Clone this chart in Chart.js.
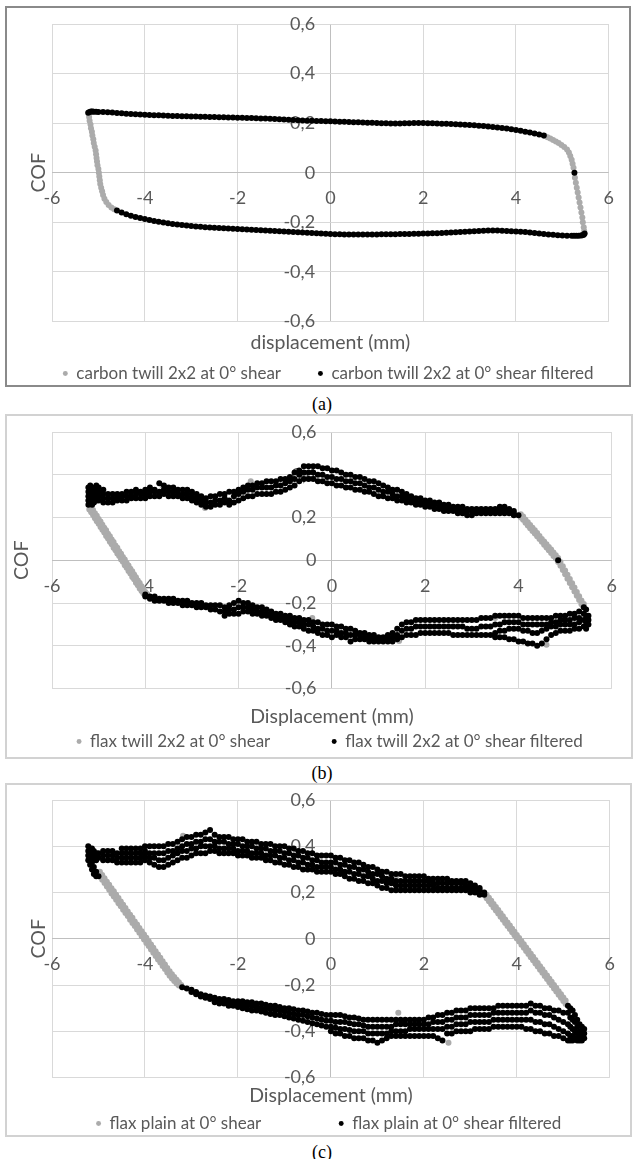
<!DOCTYPE html>
<html>
<head>
<meta charset="utf-8">
<script src="https://cdn.jsdelivr.net/npm/chart.js@4.4.1/dist/chart.umd.min.js"></script>
<style>
  html, body { margin: 0; padding: 0; background: #ffffff; }
  body { width: 636px; height: 1159px; position: relative; overflow: hidden; }
  .box { position: absolute; box-sizing: border-box; }
  canvas { position: absolute; }
  .cap { position: absolute; width: 636px; left: 0; text-align: center; font-family: "Liberation Serif", "DejaVu Serif", serif; font-size: 18px; line-height: 20px; color: #000; }
</style>
</head>
<body>
<div class="box" style="left:5px;top:6px;width:626px;height:381px;border:2px solid #8a8a8a;"></div>
<canvas id="cA" width="622" height="384" style="left:7px;top:8px;"></canvas>
<div class="cap" style="top:394px;left:4px;">(a)</div>

<div class="box" style="left:5px;top:414px;width:628px;height:345px;border:2px solid #d2d2d2;"></div>
<canvas id="cB" width="625" height="344" style="left:7px;top:416px;"></canvas>
<div class="cap" style="top:763px;left:4px;">(b)</div>

<div class="box" style="left:5px;top:783px;width:627px;height:354px;border:2px solid #d2d2d2;"></div>
<canvas id="cC" width="623" height="357" style="left:7px;top:785px;"></canvas>
<div class="cap" style="top:1142px;left:4px;">(c)</div>

<script>
// ---------------- axis ticks ----------------
const xMin = -6, xMax = 6, xStep = 2;
const yMin = -0.6, yMax = 0.6, yStep = 0.2;

// ---------------- legend labels / titles ----------------
const labelsA = ["carbon twill 2x2 at 0° shear", "carbon twill 2x2 at 0° shear filtered"];
const labelsB = ["flax twill 2x2 at 0° shear", "flax twill 2x2 at 0° shear filtered"];
const labelsC = ["flax plain at 0° shear", "flax plain at 0° shear filtered"];
const xTitleA = "displacement (mm)";
const xTitleB = "Displacement (mm)";
const xTitleC = "Displacement (mm)";
const yTitle = "COF";

// ---------------- data: rows are [x, y1, y2, ...] ----------------
// (a) carbon twill 2x2 - raw (grey)
const carbonRaw = [
[-5.21,.24],[-5.2,.225],[-5.19,.21],[-5.17,.195],[-5.16,.18],[-5.14,.165],[-5.13,.15],[-5.11,.135],[-5.1,.12],[-5.08,.105],
[-5.06,.09],[-5.05,.075],[-5.04,.06],[-5.03,.045],[-5.02,.03],[-5.0,.015],[-4.99,0],[-4.98,-.015],[-4.97,-.03],[-4.96,-.045],
[-4.94,-.06],[-4.92,-.075],[-4.9,-.09],[-4.87,-.105],[-4.83,-.118],[-4.78,-.13],[-4.72,-.14],[-4.66,-.147],
[4.62,.148],[4.68,.143],[4.74,.138],[4.8,.132],[4.86,.126],[4.92,.12],[4.98,.112],[5.04,.104],[5.1,.094],[5.14,.082],
[5.17,.068],[5.2,.052],[5.22,.036],[5.24,.02],[5.27,-.02],[5.29,-.04],[5.31,-.06],[5.33,-.08],[5.35,-.1],[5.37,-.12],
[5.39,-.14],[5.41,-.16],[5.43,-.18],[5.44,-.2],[5.46,-.22],[5.47,-.235]
];
// (a) carbon twill 2x2 - filtered (black)
const carbonFiltered = [
[-5.22,.242],[-5.19,.245],[-5.16,.247],[-5.13,.247],[-5.1,.246],[-5.05,.246],[-5,.245],[-4.9,.245],[-4.8,.244],[-4.7,.243],
[-4.6,.241],[-4.5,.24],[-4.4,.238],[-4.3,.237],[-4.2,.236],[-4.1,.235],[-4,.234],[-3.9,.233],[-3.8,.232],[-3.7,.232],
[-3.6,.231],[-3.5,.23],[-3.4,.229],[-3.3,.229],[-3.2,.228],[-3.1,.228],[-3,.227],[-2.9,.227],[-2.8,.226],[-2.7,.226],
[-2.6,.225],[-2.5,.225],[-2.4,.224],[-2.3,.224],[-2.2,.223],[-2.1,.223],[-2,.222],[-1.9,.222],[-1.8,.221],[-1.7,.221],
[-1.6,.22],[-1.5,.219],[-1.4,.219],[-1.3,.218],[-1.2,.217],[-1.1,.216],[-1,.215],[-.9,.214],[-.8,.213],[-.7,.212],
[-.6,.211],[-.5,.21],[-.4,.21],[-.3,.209],[-.2,.209],[-.1,.208],[0,.208],[.1,.207],[.2,.206],[.3,.206],
[.4,.205],[.5,.204],[.6,.204],[.7,.203],[.8,.202],[.9,.202],[1,.201],[1.1,.2],[1.2,.2],[1.3,.199],
[1.4,.199],[1.5,.199],[1.6,.2],[1.7,.2],[1.8,.201],[1.9,.201],[2,.201],[2.1,.2],[2.2,.2],[2.3,.199],
[2.4,.198],[2.5,.198],[2.6,.197],[2.7,.196],[2.8,.195],[2.9,.194],[3,.193],[3.1,.192],[3.2,.19],[3.3,.189],
[3.4,.187],[3.5,.185],[3.6,.183],[3.7,.181],[3.8,.178],[3.9,.175],[4,.172],[4.1,.169],[4.2,.165],[4.3,.162],
[4.4,.158],[4.5,.154],[4.6,.15],
[5.26,0],
[5.48,-.245],[5.46,-.25],[5.43,-.252],[5.4,-.253],[5.35,-.254],[5.3,-.254],[5.25,-.254],[5.2,-.254],[5.1,-.254],[5,-.253],
[4.9,-.252],[4.8,-.25],[4.7,-.249],[4.6,-.247],[4.5,-.245],[4.4,-.243],[4.3,-.241],[4.2,-.239],[4.1,-.238],[4,-.237],
[3.9,-.236],[3.8,-.235],[3.7,-.234],[3.6,-.233],[3.5,-.233],[3.4,-.233],[3.3,-.234],[3.2,-.235],[3.1,-.236],[3,-.237],
[2.9,-.238],[2.8,-.239],[2.7,-.24],[2.6,-.241],[2.5,-.242],[2.4,-.243],[2.3,-.244],[2.2,-.244],[2.1,-.245],[2,-.245],
[1.9,-.246],[1.8,-.246],[1.7,-.247],[1.6,-.247],[1.5,-.247],[1.4,-.248],[1.3,-.248],[1.2,-.248],[1.1,-.248],[1,-.249],
[.9,-.249],[.8,-.249],[.7,-.249],[.6,-.249],[.5,-.249],[.4,-.249],[.3,-.249],[.2,-.248],[.1,-.248],[0,-.247],
[-.1,-.246],[-.2,-.245],[-.3,-.244],[-.4,-.243],[-.5,-.242],[-.6,-.241],[-.7,-.24],[-.8,-.239],[-.9,-.238],[-1,-.237],
[-1.1,-.236],[-1.2,-.235],[-1.3,-.234],[-1.4,-.233],[-1.5,-.232],[-1.6,-.231],[-1.7,-.23],[-1.8,-.229],[-1.9,-.228],[-2,-.227],
[-2.1,-.226],[-2.2,-.225],[-2.3,-.224],[-2.4,-.223],[-2.5,-.222],[-2.6,-.221],[-2.7,-.22],[-2.8,-.218],[-2.9,-.217],[-3,-.215],
[-3.1,-.213],[-3.2,-.211],[-3.3,-.209],[-3.4,-.207],[-3.5,-.204],[-3.6,-.201],[-3.7,-.198],[-3.8,-.195],[-3.9,-.191],[-4,-.187],
[-4.1,-.183],[-4.2,-.178],[-4.3,-.173],[-4.4,-.167],[-4.5,-.16],[-4.6,-.152]
];

// (b) flax twill 2x2 - raw (grey)
const flaxTwillRaw = [
[-5.2,.262,.238],[-5.16,.249,.224],[-5.12,.235,.212],[-5.08,.22,.197],[-5.04,.208,.182],[-5,.193,.171],[-4.96,.181,.155],[-4.92,.166,.143],
[-4.88,.152,.13],[-4.84,.14,.114],[-4.8,.124,.102],[-4.76,.112,.086],[-4.72,.097,.075],[-4.68,.085,.059],[-4.64,.069,.047],[-4.6,.058,.032],
[-4.56,.042,.02],[-4.52,.03,.004],[-4.48,.015,-.007],[-4.44,.003,-.023],[-4.4,-.013,-.035],[-4.36,-.024,-.05],[-4.32,-.04,-.062],[-4.28,-.052,-.078],
[-4.24,-.067,-.089],[-4.2,-.079,-.105],[-4.16,-.095,-.117],[-4.12,-.106,-.132],[-4.08,-.122,-.144],[-4.04,-.134,-.156],[-4,-.149,-.165],[-3.96,-.158],
[4.05,.215,.2],[4.1,.205,.19],[4.15,.19,.175],[4.2,.178,.162],[4.25,.165,.15],[4.3,.152,.137],[4.35,.14,.125],[4.4,.127,.112],
[4.45,.114,.099],[4.5,.1,.086],[4.55,.088,.073],[4.6,.075,.06],[4.65,.062,.047],[4.7,.05,.034],[4.75,.036,.02],[4.8,.023,.008],
[4.85,.01,-.008],[4.9,-.008,-.026],[4.95,-.028,-.046],[5,-.048,-.066],[5.05,-.068,-.086],[5.1,-.088,-.106],[5.15,-.108,-.126],[5.2,-.128,-.146],
[5.25,-.148,-.166],[5.3,-.168,-.186],[5.35,-.188,-.206],[5.4,-.205,-.222],
[-3.62,.345],[-2.72,.245],[-1.74,.37],[-0.62,.39],[1.38,.29],[-0.42,-.27],[1.44,-.378],[4.6,-.395],[3.5,-.27]
];
// (b) flax twill 2x2 - filtered (black)
const flaxTwillFiltered = [
[-5.22,.26,.28,.30,.32,.34],[-5.18,.27,.29,.31,.33,.35],[-5.14,.26,.28,.30,.32,.34],[-5.1,.27,.29,.31,.33],[-5.05,.28,.30,.32,.35],
[-5.0,.28,.30,.32,.34],[-4.9,.27,.29,.31,.33],[-4.8,.27,.29,.31],[-4.7,.27,.29,.31],[-4.6,.28,.29,.31],
[-4.5,.28,.30,.31],[-4.4,.28,.30,.32],[-4.3,.29,.30,.32],[-4.2,.29,.31,.33],[-4.1,.29,.31,.32],
[-4.0,.29,.31,.33],[-3.9,.30,.32,.34],[-3.8,.30,.32,.33],[-3.7,.30,.32,.36],[-3.6,.31,.33,.35],
[-3.5,.30,.32,.34],[-3.4,.30,.32,.34],[-3.3,.30,.31,.33],[-3.2,.29,.31,.33],[-3.1,.29,.31,.33],
[-3.0,.28,.30,.32],[-2.9,.27,.29,.31],[-2.8,.26,.28,.30],[-2.7,.25,.27,.29],[-2.6,.25,.27,.30],
[-2.5,.26,.28,.30],[-2.4,.26,.28,.31],[-2.3,.27,.29,.31],[-2.2,.26,.28,.32],[-2.1,.27,.30,.32],
[-2.0,.28,.31,.33],[-1.9,.29,.32,.34],[-1.8,.30,.33,.35],[-1.7,.30,.33,.35],[-1.6,.31,.34,.36],
[-1.5,.31,.34,.36],[-1.4,.31,.34,.37],[-1.3,.31,.34,.37],[-1.2,.32,.35,.37],[-1.1,.32,.35,.38],
[-1.0,.33,.36,.38],[-0.9,.34,.37,.39],[-0.8,.35,.38,.41],[-0.7,.37,.40,.42],[-0.6,.38,.41,.44],
[-0.5,.38,.41,.44],[-0.4,.38,.41,.44],[-0.3,.37,.40,.44],[-0.2,.37,.40,.43],[-0.1,.36,.39,.43],
[0.0,.36,.39,.42],[0.1,.35,.38,.42],[0.2,.35,.38,.41],[0.3,.34,.37,.40],[0.4,.34,.37,.40],
[0.5,.33,.36,.39],[0.6,.33,.36,.39],[0.7,.32,.35,.38],[0.8,.32,.34,.37],[0.9,.31,.34,.37],
[1.0,.30,.33,.36],[1.1,.30,.32,.35],[1.2,.29,.32,.34],[1.3,.29,.31,.33],[1.4,.28,.30,.33],
[1.5,.28,.30,.32],[1.6,.27,.29,.31],[1.7,.27,.28,.30],[1.8,.26,.28,.29],[1.9,.26,.27,.29],
[2.0,.25,.27,.28],[2.1,.25,.26,.28],[2.2,.24,.26,.27],[2.3,.24,.25,.27],[2.4,.23,.25,.26],
[2.5,.23,.24,.26],[2.6,.23,.24,.25],[2.7,.22,.24,.25],[2.8,.22,.23,.25],[2.9,.21,.23,.24],
[3.0,.21,.23,.24],[3.1,.22,.23,.24],[3.2,.22,.23,.24],[3.3,.22,.23,.24],[3.4,.22,.23,.24],
[3.5,.22,.23,.24],[3.6,.22,.23,.25],[3.7,.22,.24,.25],[3.8,.22,.23,.24],[3.9,.21,.22,.23],[4.0,.21],
[4.85,0],
[-4.0,-.16,-.17],[-3.9,-.17,-.18],[-3.8,-.17,-.19],[-3.7,-.18,-.19],[-3.6,-.18,-.19],
[-3.5,-.18,-.20],[-3.4,-.18,-.20],[-3.3,-.19,-.20],[-3.2,-.19,-.21],[-3.1,-.19,-.21],
[-3.0,-.20,-.21],[-2.9,-.20,-.22],[-2.8,-.20,-.22],[-2.7,-.21,-.22],[-2.6,-.21,-.23],
[-2.5,-.21,-.23],[-2.4,-.21,-.24],[-2.3,-.22,-.24,-.26],[-2.2,-.21,-.23,-.25],[-2.1,-.20,-.23,-.25],
[-2.0,-.19,-.22,-.25],[-1.9,-.20,-.22,-.24],[-1.8,-.20,-.22,-.24],[-1.7,-.21,-.23,-.25],[-1.6,-.22,-.24,-.25],
[-1.5,-.22,-.24,-.26],[-1.4,-.23,-.25,-.26],[-1.3,-.24,-.26,-.27],[-1.2,-.25,-.26,-.28],[-1.1,-.25,-.27,-.28],
[-1.0,-.26,-.27,-.29],[-0.9,-.26,-.28,-.30],[-0.8,-.27,-.29,-.31],[-0.7,-.27,-.29,-.31],[-0.6,-.28,-.30,-.32],
[-0.5,-.28,-.30,-.33],[-0.4,-.29,-.31,-.33],[-0.3,-.29,-.32,-.34],[-0.2,-.30,-.32,-.35],[-0.1,-.30,-.33,-.35],
[0.0,-.30,-.33,-.36],[0.1,-.31,-.33,-.35],[0.2,-.31,-.34,-.36],[0.3,-.32,-.34,-.36],[0.4,-.32,-.35,-.38],
[0.5,-.33,-.35,-.37],[0.6,-.34,-.35,-.37],[0.7,-.34,-.36,-.37],[0.8,-.35,-.36,-.38],[0.9,-.35,-.37,-.38],
[1.0,-.36,-.37,-.38],[1.1,-.36,-.37,-.38],[1.2,-.35,-.37,-.38],[1.3,-.34,-.36,-.38],[1.4,-.32,-.35,-.37],
[1.5,-.30,-.33,-.36],[1.6,-.29,-.32,-.35],[1.7,-.29,-.32,-.35],[1.8,-.28,-.31,-.35],[1.9,-.28,-.31,-.34],
[2.0,-.28,-.31,-.34],[2.1,-.28,-.31,-.34],[2.2,-.28,-.31,-.34],[2.3,-.28,-.31,-.34],[2.4,-.28,-.31,-.34],
[2.5,-.28,-.31,-.34],[2.6,-.28,-.31,-.35],[2.7,-.28,-.31,-.35],[2.8,-.28,-.31,-.35],[2.9,-.28,-.32,-.35],
[3.0,-.28,-.32,-.35],[3.1,-.28,-.32,-.35],[3.2,-.27,-.31,-.35],[3.3,-.27,-.31,-.35],[3.4,-.27,-.31,-.35],
[3.5,-.26,-.30,-.34,-.36],[3.6,-.26,-.30,-.33,-.36],[3.7,-.26,-.29,-.33,-.36],[3.8,-.26,-.29,-.32,-.37],[3.9,-.26,-.29,-.32,-.37],
[4.0,-.26,-.29,-.32,-.38],[4.1,-.27,-.30,-.33,-.38],[4.2,-.27,-.30,-.33,-.39],[4.3,-.27,-.30,-.34,-.39],[4.4,-.27,-.30,-.34,-.40],
[4.5,-.27,-.30,-.33,-.39],[4.6,-.27,-.30,-.32,-.37],[4.7,-.27,-.29,-.31,-.35],[4.8,-.26,-.29,-.31,-.34],[4.9,-.26,-.28,-.30,-.33],
[5.0,-.26,-.28,-.30,-.33],[5.1,-.25,-.28,-.30,-.33],[5.2,-.25,-.27,-.30,-.32],[5.3,-.24,-.27,-.29,-.32],[5.4,-.22,-.25,-.28,-.31],
[5.45,-.23,-.26,-.29,-.32],[5.5,-.26,-.28,-.30]
];

// (c) flax plain - raw (grey)
const flaxPlainRaw = [
[-4.97,.29,.27],[-4.92,.276,.255],[-4.87,.262,.241],[-4.82,.247,.226],[-4.77,.233,.212],[-4.72,.218,.196],[-4.67,.205,.183],[-4.62,.19,.169],
[-4.57,.176,.154],[-4.52,.161,.141],[-4.47,.147,.125],[-4.42,.133,.111],[-4.37,.118,.098],[-4.32,.104,.082],[-4.27,.091,.068],[-4.22,.075,.055],
[-4.17,.062,.04],[-4.12,.047,.026],[-4.07,.032,.011],[-4.02,.018,-.003],[-3.97,.004,-.018],[-3.92,-.011,-.031],[-3.87,-.025,-.047],[-3.82,-.039,-.06],
[-3.77,-.054,-.075],[-3.72,-.068,-.09],[-3.67,-.082,-.103],[-3.62,-.097,-.118],[-3.57,-.111,-.131],[-3.52,-.126,-.146],[-3.47,-.14,-.16],[-3.42,-.153,-.172],
[-3.37,-.165,-.183],[-3.32,-.177,-.193],[-3.27,-.188,-.202],[-3.22,-.2],
[3.35,.19,.175],[3.4,.177,.162],[3.45,.164,.149],[3.5,.15,.135],[3.55,.137,.122],[3.6,.124,.109],[3.65,.11,.095],[3.7,.097,.082],
[3.75,.083,.068],[3.8,.07,.055],[3.85,.057,.042],[3.9,.043,.028],[3.95,.03,.015],[4,.016,.001],[4.05,.003,-.012],[4.1,-.011,-.026],
[4.15,-.024,-.039],[4.2,-.038,-.053],[4.25,-.051,-.066],[4.3,-.065,-.08],[4.35,-.078,-.093],[4.4,-.092,-.107],[4.45,-.105,-.12],[4.5,-.119,-.134],
[4.55,-.132,-.147],[4.6,-.146,-.161],[4.65,-.159,-.174],[4.7,-.173,-.188],[4.75,-.186,-.201],[4.8,-.2,-.215],[4.85,-.213,-.228],[4.9,-.227,-.242],
[4.95,-.24,-.255],[5,-.254,-.269],[5.05,-.267,-.282],
[-3.18,.445],[2.53,-.45],[1.45,-.32],[1.4,.27],[-0.5,.3]
];
// (c) flax plain - filtered (black)
const flaxPlainFiltered = [
[-5.22,.34,.36,.38,.40],[-5.18,.32,.35,.37,.39],[-5.14,.30,.33,.36,.39],[-5.1,.28,.31,.35,.38],[-5.05,.27,.29,.34,.37],
[-5.0,.27,.35,.37],[-4.9,.34,.36,.38],[-4.8,.34,.36,.38],[-4.7,.34,.36,.38],[-4.6,.33,.35,.37],
[-4.5,.33,.35,.37,.39],[-4.4,.33,.35,.37,.39],[-4.3,.33,.35,.37,.39],[-4.2,.33,.35,.37,.39],[-4.1,.33,.35,.37,.39],
[-4.0,.34,.36,.38,.40],[-3.9,.33,.35,.37,.40],[-3.8,.32,.35,.37,.40],[-3.7,.31,.34,.37,.40],[-3.6,.31,.34,.37,.40],
[-3.5,.32,.35,.38,.41],[-3.4,.33,.36,.38,.41],[-3.3,.34,.37,.39,.42],[-3.2,.35,.38,.40,.43],[-3.1,.35,.38,.41,.44],
[-3.0,.36,.39,.41,.44],[-2.9,.37,.39,.42,.45],[-2.8,.37,.40,.42,.45],[-2.7,.37,.40,.43,.46],[-2.6,.38,.40,.43,.47],
[-2.5,.38,.40,.42,.45],[-2.4,.37,.39,.42,.44],[-2.3,.37,.39,.42,.44],[-2.2,.37,.39,.41,.44],[-2.1,.37,.39,.41,.43],
[-2.0,.36,.38,.41,.43],[-1.9,.36,.38,.40,.43],[-1.8,.36,.38,.40,.42],[-1.7,.35,.37,.40,.42],[-1.6,.35,.37,.39,.42],
[-1.5,.35,.37,.39,.41],[-1.4,.34,.36,.39,.41],[-1.3,.34,.36,.38,.41],[-1.2,.33,.36,.38,.40],[-1.1,.33,.35,.38,.40],
[-1.0,.32,.35,.37,.40],[-0.9,.32,.34,.37,.39],[-0.8,.31,.34,.36,.39],[-0.7,.31,.33,.36,.38],[-0.6,.30,.33,.35,.38],
[-0.5,.30,.32,.35,.37],[-0.4,.30,.32,.34,.37],[-0.3,.29,.31,.34,.36],[-0.2,.29,.31,.33,.36],[-0.1,.29,.31,.33,.36],
[0.0,.29,.31,.33,.36],[0.1,.28,.30,.33,.35],[0.2,.28,.30,.32,.35],[0.3,.27,.29,.32,.34],[0.4,.26,.29,.31,.34],
[0.5,.26,.28,.31,.33],[0.6,.25,.28,.30,.33],[0.7,.25,.27,.30,.32],[0.8,.24,.27,.29,.31],[0.9,.24,.26,.28,.31],
[1.0,.23,.25,.28,.30],[1.1,.22,.25,.27,.29],[1.2,.22,.24,.26,.29],[1.3,.21,.24,.26,.28],[1.4,.21,.23,.25,.28],
[1.5,.21,.23,.25,.28],[1.6,.21,.23,.25,.27],[1.7,.21,.23,.25,.27],[1.8,.21,.23,.25,.27],[1.9,.21,.23,.25,.27],
[2.0,.21,.23,.25,.27],[2.1,.21,.23,.25,.26],[2.2,.21,.23,.24,.26],[2.3,.21,.22,.24,.26],[2.4,.21,.22,.24,.26],
[2.5,.21,.22,.24,.26],[2.6,.21,.22,.24,.25],[2.7,.21,.22,.24,.25],[2.8,.21,.22,.24,.25],[2.9,.21,.22,.23,.25],
[3.0,.20,.22,.23,.24],[3.1,.20,.21,.23],[3.2,.19,.21,.22],[3.3,.19,.20],
[-3.2,-.21],[-3.1,-.215],[-3.0,-.22,-.23],[-2.9,-.23,-.24],[-2.8,-.24,-.25],
[-2.7,-.245,-.255],[-2.6,-.25,-.26],[-2.5,-.255,-.265,-.275],[-2.4,-.26,-.27,-.28],[-2.3,-.26,-.27,-.28],
[-2.2,-.265,-.275,-.29],[-2.1,-.27,-.28,-.29],[-2.0,-.27,-.28,-.295],[-1.9,-.27,-.285,-.30],[-1.8,-.275,-.29,-.305],
[-1.7,-.275,-.29,-.31],[-1.6,-.28,-.295,-.31],[-1.5,-.28,-.30,-.315],[-1.4,-.285,-.30,-.32],[-1.3,-.29,-.305,-.325],
[-1.2,-.29,-.31,-.33],[-1.1,-.295,-.31,-.33],[-1.0,-.30,-.315,-.335],[-0.9,-.30,-.32,-.34],[-0.8,-.305,-.325,-.345],
[-0.7,-.31,-.33,-.35],[-0.6,-.31,-.33,-.355],[-0.5,-.315,-.335,-.36],[-0.4,-.32,-.34,-.365],[-0.3,-.32,-.345,-.37],
[-0.2,-.325,-.35,-.375],[-0.1,-.33,-.355,-.38],[0.0,-.33,-.355,-.38,-.40],[0.1,-.33,-.36,-.385,-.41],[0.2,-.33,-.36,-.39,-.41],
[0.3,-.335,-.36,-.39,-.42],[0.4,-.34,-.365,-.395,-.42],[0.5,-.34,-.37,-.40,-.43],[0.6,-.345,-.37,-.40,-.43],[0.7,-.35,-.375,-.40,-.43],
[0.8,-.35,-.38,-.41,-.44],[0.9,-.35,-.38,-.41,-.44],[1.0,-.35,-.38,-.41,-.45],[1.1,-.35,-.38,-.41,-.44],[1.2,-.35,-.38,-.41,-.43],
[1.3,-.35,-.38,-.40,-.42],[1.4,-.35,-.37,-.40,-.42],[1.5,-.35,-.37,-.40,-.42],[1.6,-.35,-.37,-.40,-.42],[1.7,-.35,-.37,-.39,-.42],
[1.8,-.35,-.37,-.39,-.42],[1.9,-.35,-.37,-.39,-.42],[2.0,-.35,-.37,-.39,-.42],[2.1,-.34,-.37,-.39,-.42],[2.2,-.34,-.36,-.39,-.42],
[2.3,-.33,-.36,-.39,-.43],[2.4,-.33,-.36,-.39,-.44],[2.5,-.32,-.35,-.38,-.41],[2.6,-.32,-.35,-.38,-.41],[2.7,-.31,-.34,-.37,-.40],
[2.8,-.31,-.34,-.37,-.40],[2.9,-.31,-.34,-.37,-.40],[3.0,-.30,-.33,-.36,-.40],[3.1,-.30,-.33,-.36,-.39],[3.2,-.30,-.33,-.36,-.39],
[3.3,-.30,-.33,-.36,-.39],[3.4,-.30,-.33,-.36,-.39],[3.5,-.30,-.32,-.35,-.38],[3.6,-.29,-.32,-.35,-.38],[3.7,-.29,-.32,-.35,-.38],
[3.8,-.29,-.32,-.35,-.38],[3.9,-.29,-.32,-.35,-.38],[4.0,-.29,-.32,-.35,-.38],[4.1,-.29,-.32,-.35,-.38],[4.2,-.29,-.32,-.35,-.39],
[4.3,-.28,-.31,-.35,-.39],[4.4,-.29,-.32,-.36,-.40],[4.5,-.29,-.32,-.36,-.40],[4.6,-.30,-.33,-.37,-.41],[4.7,-.30,-.33,-.37,-.41],
[4.8,-.31,-.34,-.38,-.42],[4.9,-.31,-.35,-.39,-.42],[5.0,-.32,-.36,-.40,-.43],[5.1,-.29,-.32,-.37,-.41,-.44],[5.15,-.30,-.34,-.38,-.42,-.44],
[5.2,-.31,-.35,-.39,-.42,-.44],[5.25,-.33,-.36,-.40,-.43],[5.3,-.35,-.38,-.41,-.44],[5.35,-.37,-.40,-.42,-.44],[5.4,-.38,-.40,-.42,-.44],
[5.45,-.39,-.41,-.43]
];

// ---------------- styling ----------------
const FONT = "Lato, 'Open Sans', sans-serif";
const TXT = "#595959";
const GRID = "#d9d9d9";
const AXIS = "#bfbfbf";
const GREY = "#ababab";
const BLACK = "#000000";

function toPoints(rows) {
  const pts = [];
  rows.forEach(r => { for (let i = 1; i < r.length; i++) pts.push({ x: r[0], y: r[i] }); });
  return pts;
}
function fmt(v) {
  let r = Math.round(v * 10) / 10;
  if (Object.is(r, -0)) r = 0;
  return String(r).replace('.', ',');
}
function ds(label, rows, color) {
  return {
    label: label, data: toPoints(rows),
    backgroundColor: color, borderColor: color, borderWidth: 0,
    pointBackgroundColor: color, pointBorderColor: color, pointBorderWidth: 0,
    pointRadius: 3, pointHoverRadius: 3, pointStyle: 'circle',
    xAxisID: 'x', yAxisID: 'y'
  };
}

function buildChart(id, raw, filtered, labels, xTitle, L) {
  const gridColor = (c) => (c.tick && Math.abs(c.tick.value) < 1e-9) ? AXIS : GRID;
  return new Chart(document.getElementById(id), {
    type: 'scatter',
    data: {
      datasets: [
        ds(labels[1] + L.tail, filtered, BLACK),
        ds(labels[0] + L.gap, raw, GREY)
      ]
    },
    options: {
      responsive: false, animation: false, devicePixelRatio: 1,
      events: [],
      layout: { padding: { left: 0, right: L.padRight, top: L.padTop, bottom: 0 } },
      plugins: {
        legend: {
          position: 'bottom', reverse: true, fullSize: false,
          labels: {
            usePointStyle: true, pointStyle: 'circle', boxWidth: 5, boxHeight: 3.5,
            padding: L.legendPad, color: TXT, font: { family: FONT, size: 17 }
          }
        },
        tooltip: { enabled: false }
      },
      scales: {
        x: {
          type: 'linear', position: { y: 0 }, min: xMin, max: xMax,
          ticks: { stepSize: xStep, padding: 15, color: TXT, font: { family: FONT, size: 18 }, callback: fmt, autoSkip: false, maxRotation: 0 },
          grid: { color: gridColor, drawTicks: false, lineWidth: 1 },
          border: { display: false }
        },
        y: {
          type: 'linear', position: { x: L.yLabelX }, min: yMin, max: yMax,
          ticks: { stepSize: yStep, color: TXT, font: { family: FONT, size: 18 }, callback: fmt, autoSkip: false },
          grid: { color: gridColor, drawTicks: false, lineWidth: 1 },
          border: { display: false }
        },
        xt: {
          type: 'linear', position: 'bottom',
          ticks: { display: false }, grid: { display: false, drawTicks: false }, border: { display: false },
          title: { display: true, text: xTitle, color: TXT, font: { family: FONT, size: 19.5 }, padding: { top: L.xtTop, bottom: 0 } }
        },
        yt: {
          type: 'linear', position: 'left',
          ticks: { display: false }, grid: { display: false, drawTicks: false }, border: { display: false },
          title: { display: true, text: yTitle, color: TXT, font: { family: FONT, size: 19.5 }, padding: { top: L.ytTop, bottom: L.ytBottom } }
        }
      }
    }
  });
}

buildChart('cA', carbonRaw, carbonFiltered, labelsA, xTitleA,
  { padRight: 11, padTop: 16, xtTop: 9.3, legendPad: 10.8, ytTop: 19.8, ytBottom: 1.8, yLabelX: -0.33,
    gap: '      ', tail: ' ' });
buildChart('cB', flaxTwillRaw, flaxTwillFiltered, labelsB, xTitleB,
  { padRight: 9, padTop: 16, xtTop: 16.3, legendPad: 4.8, ytTop: 3.3, ytBottom: 18.3, yLabelX: -0.33,
    gap: '             ', tail: ' ' });
buildChart('cC', flaxPlainRaw, flaxPlainFiltered, labelsC, xTitleC,
  { padRight: 13, padTop: 15, xtTop: 6.3, legendPad: 7.8, ytTop: 19.8, ytBottom: 1.8, yLabelX: -0.33,
    gap: '                ', tail: ' ' });
</script>
</body>
</html>
